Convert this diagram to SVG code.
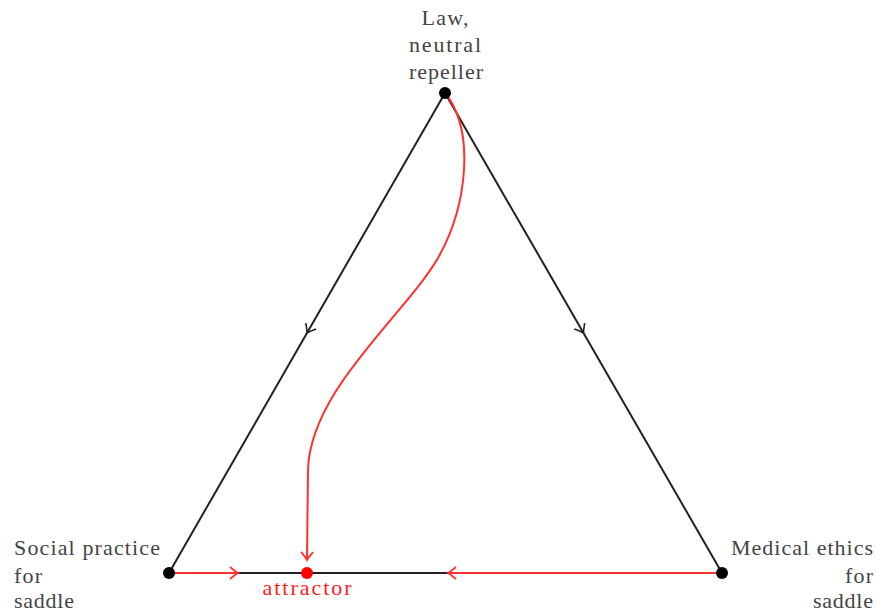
<svg xmlns="http://www.w3.org/2000/svg" width="876" height="614" viewBox="0 0 876 614">
<style>
.lbl{font-family:"Liberation Serif","DejaVu Serif",serif;font-size:22px;fill:#444}
.red{fill:#ff2020}
.edge{stroke:#222;stroke-width:2;fill:none}
.flow{stroke:#ff3030;stroke-width:2;fill:none}
</style>
<defs>
<marker id="ab" viewBox="-10 -8 12 16" markerWidth="12" markerHeight="16" refX="0" refY="0" orient="auto" markerUnits="userSpaceOnUse">
<path d="M-8,-6 Q-2,-1 0,0 Q-2,1 -8,6" fill="none" stroke="#222" stroke-width="1.6"/>
</marker>
<marker id="ar" viewBox="-10 -8 12 16" markerWidth="12" markerHeight="16" refX="0" refY="0" orient="auto" markerUnits="userSpaceOnUse">
<path d="M-8,-6 Q-2,-1 0,0 Q-2,1 -8,6" fill="none" stroke="#ff3030" stroke-width="1.8"/>
</marker>
</defs>
<g id="connectors">
<path class="edge" d="M445,93 L307,333" marker-end="url(#ab)"/>
<path class="edge" d="M307,333 L169,573"/>
<path class="edge" d="M445,93 L583.5,333" marker-end="url(#ab)"/>
<path class="edge" d="M583.5,333 L722,573"/>
<path class="edge" d="M169,573 L722,573"/>
<path class="flow" d="M169,573 L238,573" marker-end="url(#ar)"/>
<path class="flow" d="M722,573 L448,573" marker-end="url(#ar)"/>
<path class="flow" d="M445,93 C475,130 468,205 438,258 C405,315 310,390 308,470 L307,560" marker-end="url(#ar)"/>
</g>
<g id="law">
<circle cx="445" cy="93" r="6" fill="#000"/>
<text class="lbl" text-anchor="middle"><tspan x="445" y="25" textLength="47">Law,</tspan><tspan x="445" y="52" textLength="72">neutral</tspan><tspan x="446" y="79" textLength="74">repeller</tspan></text>
</g>
<g id="social">
<circle cx="169" cy="573" r="6" fill="#000"/>
<text class="lbl"><tspan x="14" y="555" textLength="146">Social practice</tspan><tspan x="14" y="583" textLength="28">for</tspan><tspan x="14" y="608" textLength="60">saddle</tspan></text>
</g>
<g id="medical">
<circle cx="722" cy="573" r="6" fill="#000"/>
<text class="lbl" text-anchor="end"><tspan x="873" y="555" textLength="142">Medical ethics</tspan><tspan x="873" y="583" textLength="28">for</tspan><tspan x="873" y="608" textLength="60">saddle</tspan></text>
</g>
<g id="attractor">
<circle cx="307" cy="573" r="6" fill="#ff0000"/>
<text class="lbl red" text-anchor="middle" x="307" y="595" textLength="89">attractor</text>
</g>
</svg>
